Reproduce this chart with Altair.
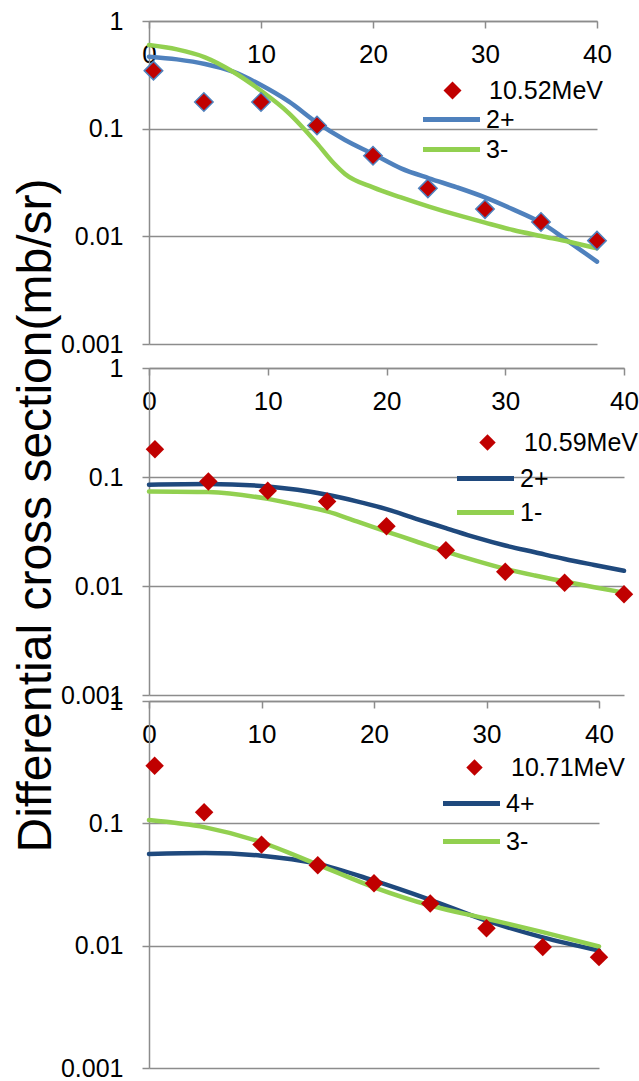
import altair as alt
import pandas as pd

FONT = "Liberation Sans"
RED = "#C00000"
GREEN = "#92D050"
LBLUE = "#4F81BD"
DBLUE = "#1F497D"
GRAY = "#8C8C8C"

X_TICKS = [0, 10, 20, 30, 40]
Y_TICKS = [0.001, 0.01, 0.1, 1]
Y_TITLE = "Differential cross section(mb/sr)"

# ---------------- Panel 1 : 10.52 MeV ----------------
p1_label = "10.52MeV"
p1_pt_angle = [0.4, 4.9, 10, 15, 20, 24.9, 30, 35, 40]
p1_pt_xs = [0.346, 0.177, 0.177, 0.107, 0.0561, 0.0279, 0.0179, 0.0136, 0.00912]
p1_states = ["2+", "3-"]
p1_colors = [LBLUE, GREEN]
p1_a_angle = [0, 2.5, 5, 7.5, 10, 12.5, 15, 17.5, 20, 22.5, 25, 27.5, 30, 32.5, 35, 37.5, 40]
p1_a_xs = [0.466, 0.44, 0.399, 0.338, 0.254, 0.178, 0.1137, 0.0785, 0.0582, 0.0428, 0.0346,
           0.0285, 0.023, 0.0178, 0.0134, 0.0089, 0.00582]
p1_b_angle = [0, 2.5, 5, 7.5, 10, 12.5, 15, 16.5, 17.5, 20, 22.5, 25, 27.5, 30, 32.5, 35, 37.5, 40]
p1_b_xs = [0.598, 0.545, 0.46, 0.338, 0.225, 0.139, 0.073, 0.0477, 0.038, 0.0285, 0.023,
           0.0189, 0.0158, 0.0134, 0.01145, 0.01007, 0.0089, 0.00774]

# ---------------- Panel 2 : 10.59 MeV ----------------
p2_label = "10.59MeV"
p2_pt_angle = [0.5, 5, 10, 15, 20, 25, 30, 35, 40]
p2_pt_xs = [0.180, 0.091, 0.0748, 0.0597, 0.0354, 0.0213, 0.0135, 0.0107, 0.0084]
p2_states = ["2+", "1-"]
p2_colors = [DBLUE, GREEN]
p2_a_angle = [0, 5, 10, 12.5, 15, 17.5, 20, 22.5, 25, 27.5, 30, 32.5, 35, 37.5, 40]
p2_a_xs = [0.085, 0.0862, 0.0819, 0.0763, 0.0687, 0.0597, 0.0507, 0.0413, 0.034, 0.0279,
           0.0235, 0.0204, 0.0177, 0.0156, 0.0138]
p2_b_angle = [0, 5, 10, 12.5, 15, 17.5, 20, 22.5, 25, 27.5, 30, 32.5, 35, 37.5, 40]
p2_b_xs = [0.0737, 0.0727, 0.063, 0.0556, 0.0483, 0.0391, 0.0316, 0.0256, 0.0207, 0.0171,
           0.01437, 0.01248, 0.011, 0.00975, 0.0087]

# ---------------- Panel 3 : 10.71 MeV ----------------
p3_label = "10.71MeV"
p3_pt_angle = [0.5, 4.9, 10, 15, 20, 25, 30, 35, 40]
p3_pt_xs = [0.296, 0.123, 0.067, 0.0454, 0.0324, 0.0221, 0.0139, 0.00973, 0.00806]
p3_states = ["4+", "3-"]
p3_colors = [DBLUE, GREEN]
p3_a_angle = [0, 5, 10, 15, 20, 25, 30, 35, 40]
p3_a_xs = [0.0562, 0.0571, 0.0544, 0.0466, 0.034, 0.0237, 0.016, 0.0117, 0.00912]
p3_b_angle = [0, 5, 10, 15, 20, 25, 30, 35, 40]
p3_b_xs = [0.1064, 0.0927, 0.07, 0.046, 0.030, 0.0213, 0.0166, 0.0129, 0.00984]


def make_panel(label, pt_angle, pt_xs, states, colors, a_angle, a_xs, b_angle, b_xs,
               width, height, pt_stroke, pt_leg, line_leg, title=None):
    pts_df = pd.DataFrame({"angle": pt_angle, "xs": pt_xs, "label": label})
    line_df = pd.concat([
        pd.DataFrame({"angle": a_angle, "xs": a_xs, "state": states[0], "k": 0}),
        pd.DataFrame({"angle": b_angle, "xs": b_xs, "state": states[1], "k": 1}),
    ])
    x_scale = alt.Scale(domain=[0, 40], nice=False, zero=False)
    y_scale = alt.Scale(type="log", domain=[0.001, 1], nice=False)
    x_axis = alt.Axis(orient="bottom", offset=-height, values=X_TICKS, title=None,
                      grid=False, tickSize=7, labelPadding=13, labelFontSize=26,
                      labelFlush=False, labelOverlap=False)
    yargs = dict(values=Y_TICKS, format="~g", grid=True, tickSize=7, labelPadding=19,
                 labelFontSize=25, labelOverlap=False)
    if title:
        y_axis = alt.Axis(title=title, titleFontSize=48, titleFontWeight="normal",
                          titleColor="black", titleAngle=-90, titleAlign="center",
                          titleBaseline="alphabetic", titleX=-99, titleY=147, **yargs)
    else:
        y_axis = alt.Axis(title=None, **yargs)

    lines = alt.Chart(line_df).mark_line(
        interpolate="monotone", strokeWidth=4.5, strokeCap="round"
    ).encode(
        x=alt.X("angle:Q", scale=x_scale, axis=x_axis),
        y=alt.Y("xs:Q", scale=y_scale, axis=y_axis),
        color=alt.Color("state:N", scale=alt.Scale(domain=states, range=colors),
                        legend=alt.Legend(title=None, orient="none",
                                          legendX=line_leg[0], legendY=line_leg[1],
                                          symbolType="M-5,0L1,0", symbolSize=361,
                                          symbolStrokeWidth=5, labelFontSize=25,
                                          labelOffset=3, rowPadding=line_leg[2],
                                          padding=0, labelColor="black")),
        order=alt.Order("k:Q"),
    )
    mark_kw = dict(filled=True, size=340, opacity=1, color=RED)
    if pt_stroke:
        mark_kw.update(stroke=pt_stroke, strokeWidth=1.5)
    pts = alt.Chart(pts_df).mark_point(**mark_kw).encode(
        x=alt.X("angle:Q", scale=x_scale, axis=x_axis),
        y=alt.Y("xs:Q", scale=y_scale, axis=y_axis),
        shape=alt.Shape("label:N", scale=alt.Scale(domain=[label], range=["diamond"]),
                        legend=alt.Legend(title=None, orient="none",
                                          legendX=pt_leg[0], legendY=pt_leg[1],
                                          symbolSize=pt_leg[2], symbolFillColor=RED,
                                          symbolStrokeColor=pt_stroke or RED,
                                          symbolStrokeWidth=1.5 if pt_stroke else 0,
                                          labelFontSize=25, labelOffset=24,
                                          padding=0, labelColor="black")),
    )
    return alt.layer(lines, pts).properties(width=width, height=height)


p1 = make_panel(p1_label, p1_pt_angle, p1_pt_xs, p1_states, p1_colors,
                p1_a_angle, p1_a_xs, p1_b_angle, p1_b_xs,
                448, 323, LBLUE, (291, 57, 324), (309, 86, 4))
p2 = make_panel(p2_label, p2_pt_angle, p2_pt_xs, p2_states, p2_colors,
                p2_a_angle, p2_a_xs, p2_b_angle, p2_b_xs,
                475, 327, None, (326, 62, 270), (343, 98, 8), title=Y_TITLE)
p3 = make_panel(p3_label, p3_pt_angle, p3_pt_xs, p3_states, p3_colors,
                p3_a_angle, p3_a_xs, p3_b_angle, p3_b_xs,
                450, 367, None, (313, 54, 270), (329, 90, 12))

inner = alt.vconcat(p2, p3, spacing=6, bounds="flush").resolve_scale(
    color="independent", shape="independent").resolve_legend(
    color="independent", shape="independent")

chart = alt.vconcat(p1, inner, spacing=24, bounds="flush").resolve_scale(
    color="independent", shape="independent").resolve_legend(
    color="independent", shape="independent"
).properties(
    padding={"left": 11, "top": 9, "right": 0, "bottom": 0}
).configure_view(stroke=None).configure_axis(
    labelFont=FONT, titleFont=FONT, labelColor="black",
    domainColor=GRAY, tickColor=GRAY, gridColor=GRAY,
    domainWidth=1.5, tickWidth=1.5, gridWidth=1.5,
).configure_legend(labelFont=FONT)

chart.save("out.html", embed_options={"renderer": "svg", "actions": False})
